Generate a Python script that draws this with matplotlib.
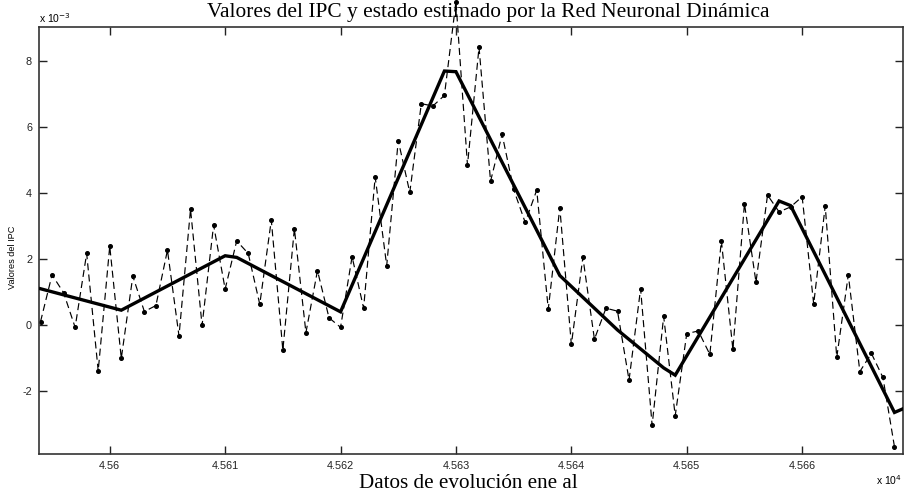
import matplotlib
matplotlib.use("Agg")
from matplotlib import pyplot as plt
from matplotlib.patches import Rectangle

# Datos reales del IPC (en unidades de 1e-3), un punto por dia
dias = list(range(45594, 45669))
ipc = [0.10, 1.52, 0.98, -0.07, 2.17, -1.39, 2.39, -1.01, 1.48, 0.41,
       0.59, 2.27, -0.33, 3.51, -0.01, 3.03, 1.09, 2.55, 2.17, 0.63,
       3.18, -0.76, 2.92, -0.23, 1.65, 0.22, -0.07, 2.07, 0.51, 4.49,
       1.80, 5.59, 4.02, 6.71, 6.64, 6.96, 9.80, 4.85, 8.42, 4.36,
       5.78, 4.11, 3.11, 4.09, 0.48, 3.56, -0.59, 2.05, -0.43, 0.51,
       0.42, -1.67, 1.10, -3.04, 0.26, -2.75, -0.26, -0.18, -0.89, 2.55,
       -0.74, 3.68, 1.30, 3.94, 3.43, 3.58, 3.89, 0.64, 3.61, -0.98,
       1.52, -1.41, -0.86, -1.59, -3.69]

# Estado estimado por la red (vertices de la curva)
dias_est = [45594, 45601, 45610, 45611, 45620, 45629, 45630, 45639,
            45644, 45648, 45649, 45658, 45659, 45668, 45669]
estimado = [1.10, 0.45, 2.10, 2.05, 0.40, 7.70, 7.68, 1.50,
            -0.15, -1.30, -1.52, 3.76, 3.62, -2.65, -2.50]

xticks = [45600, 45610, 45620, 45630, 45640, 45650, 45660]
xticklabels = ["4.56", "4.561", "4.562", "4.563", "4.564", "4.565", "4.566"]
yticks = [-2, 0, 2, 4, 6, 8]

fig = plt.figure(figsize=(9.05, 5.01), dpi=100)
ax = fig.add_axes([0.0431, 0.0938, 0.9547, 0.852])

linea, = ax.plot(dias, ipc, color="black", linestyle=(0, (6, 3.5)), linewidth=0.85,
                 marker="o", markersize=2.6, zorder=2)
# el pico sobresale por arriba del recuadro como en el original
linea.set_clip_path(Rectangle((0, -0.01), 1, 1.1, transform=ax.transAxes))
ax.plot(dias_est, estimado, color="black", linewidth=2.4, solid_joinstyle="miter", zorder=3)

ax.set_xlim(45593.87, 45668.74)
ax.set_ylim(-3.91, 9.03)
ax.set_xticks(xticks)
ax.set_xticklabels(xticklabels)
ax.set_yticks(yticks)
ax.set_yticklabels([str(v) for v in yticks])
ax.tick_params(direction="in", length=6, width=1, top=True, right=True,
               labelsize=7.8, colors="#222222", pad=5)
for lab in ax.get_xticklabels() + ax.get_yticklabels():
    lab.set_family("Liberation Sans")
for s in ax.spines.values():
    s.set_linewidth(1.2)
    s.set_color("#333333")

ax.text(0.0, 1.006, r"x 10$^{-3}$", transform=ax.transAxes, fontsize=7.5,
        family="Liberation Sans", ha="left", va="bottom")
ax.text(0.999, -0.062, r"x 10$^{4}$", transform=ax.transAxes, fontsize=7.5,
        family="Liberation Sans", ha="right", va="center")

ax.set_ylabel("Valores del IPC", fontsize=6.6, family="Liberation Sans")
ax.yaxis.set_label_coords(-0.026, 0.46)

fig.text(0.539, 0.995, "Valores del IPC y estado estimado por la Red Neuronal Dinámica",
         family="Liberation Serif", fontsize=15.4, ha="center", va="top")
fig.text(0.517, 0.015, "Datos de evolución ene al",
         family="Liberation Serif", fontsize=15.2, ha="center", va="bottom")

plt.savefig("out.png", dpi=100)
